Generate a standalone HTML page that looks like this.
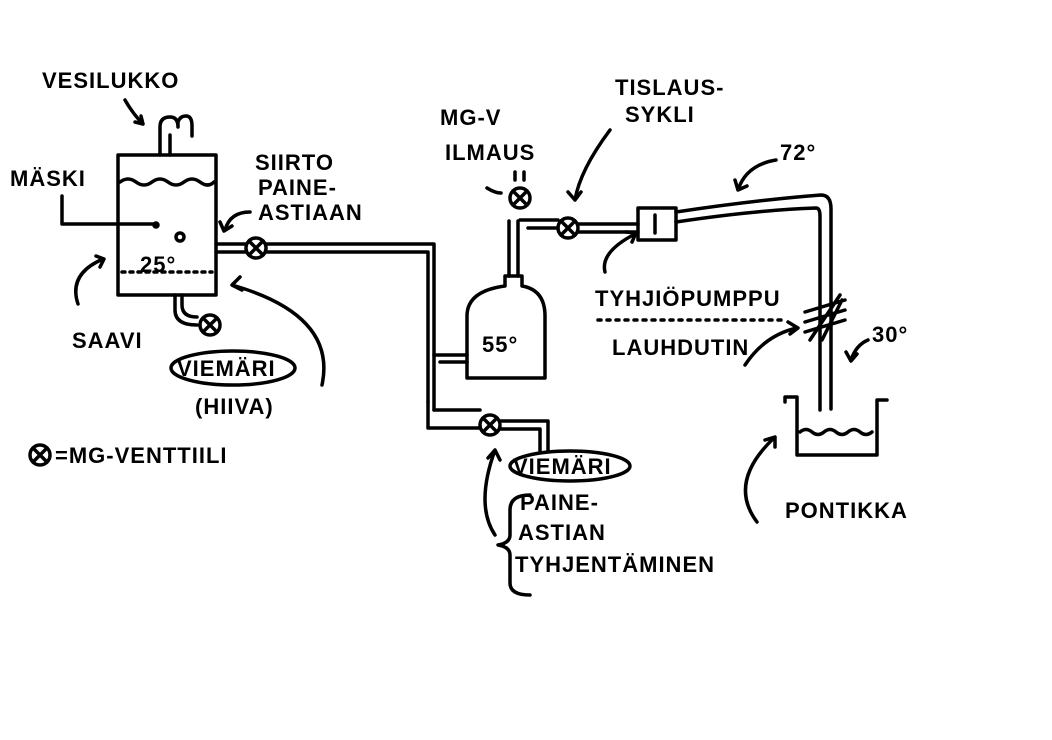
<!DOCTYPE html>
<html><head><meta charset="utf-8"><style>
html,body{margin:0;padding:0;background:#fff;width:1052px;height:740px;overflow:hidden}
svg text{font-family:"Liberation Sans Narrow","Liberation Sans",sans-serif;font-size:22px;fill:#000;letter-spacing:1px;font-weight:bold}
</style></head><body>
<svg width="1052" height="740" viewBox="0 0 1052 740" xmlns="http://www.w3.org/2000/svg">
<g fill="none" stroke="#000" stroke-width="3.5" stroke-linecap="round" stroke-linejoin="round">
<rect x="118" y="155" width="98" height="140"/>
<path d="M120 182 q8 -6 16 0 q8 6 16 0 q8 -6 16 0 q8 6 16 0 q8 -6 16 0 q8 6 14 0"/>
<path d="M122 272 h90" stroke-dasharray="3 5"/>
<path d="M160 155 v-28 q0 -10 10 -10 q8 0 8 10 v-5 M170 155 v-20 M178 122 q2 -6 8 -6 q6 0 6 10 v10"/>
<path d="M125 100 q8 14 18 24 M135 122 l8 2 l-2 -8"/>
<path d="M62 196 v28 h92"/>
<circle cx="156" cy="225" r="2" fill="#000"/>
<circle cx="180" cy="237" r="4"/>
<path d="M78 304 q-10 -30 25 -45 M96 256 l8 3 l-4 8"/>
<path d="M250 212 q-20 0 -25 18 M220 222 l4 9 l8 -5"/>
<path d="M216 244 h30 M216 252 h30"/>
<circle cx="256" cy="248" r="10"/><path d="M249 241 l14 14 M263 241 l-14 14"/>
<path d="M266 244 h168 v166 M266 252 h162 v150"/>
<path d="M428 402 v26 h52 M434 410 h46" />
<path d="M434 355 h33 M440 362 h27"/>
<circle cx="490" cy="425" r="10"/><path d="M483 418 l14 14 M497 418 l-14 14"/>
<path d="M500 421 h48 v30 M500 429 h40 v22"/>
<path d="M175 295 v15 q0 15 22 15 M182 295 v10 q0 12 15 12"/>
<circle cx="210" cy="325" r="10"/><path d="M203 318 l14 14 M217 318 l-14 14"/>
<ellipse cx="233" cy="368" rx="62" ry="17"/>
<path d="M322 385 q15 -70 -90 -100 M232 285 l8 -8 M232 285 l10 5"/>
<path d="M467 378 v-62 q0 -25 38 -30 v-10 h17 v10 q23 4 23 30 v62 z"/>
<path d="M509 276 v-55 M518 276 v-55"/>
<circle cx="520" cy="198" r="10"/><path d="M513 191 l14 14 M527 191 l-14 14"/>
<path d="M515 180 v-8 M524 180 v-8"/>
<path d="M520 220 h38 M528 228 h30"/>
<circle cx="568" cy="228" r="10"/><path d="M561 221 l14 14 M575 221 l-14 14"/>
<path d="M578 224 h60 M578 232 h60"/>
<rect x="638" y="208" width="38" height="32"/><path d="M655 215 v18"/>
<path d="M676 212 q80 -12 145 -17 q10 0 10 14 v200 M676 222 q80 -12 140 -14 q4 0 4 8 v194"/>
<path d="M805 312 l40 -12 M805 322 l40 -12 M805 332 l40 -12 M810 340 l30 -45 M822 340 l20 -40"/>
<path d="M785 402 v-5 h12 v58 h80 v-55 h10"/>
<path d="M800 432 q6 -5 12 0 q6 5 12 0 q6 -5 12 0 q6 5 12 0 q6 -5 12 0 q6 5 12 0"/>
<path d="M868 340 q-12 5 -17 20 M846 352 l5 9 l6 -7"/>
<path d="M776 160 q-30 5 -38 30 M735 180 l3 10 l9 -4"/>
<path d="M610 130 q-30 40 -35 70 M568 192 l7 8 l6 -8"/>
<path d="M487 188 q8 5 14 5"/>
<path d="M605 272 q-5 -20 30 -38 M626 232 l10 1 l-4 9"/>
<path d="M598 320 h185" stroke-dasharray="3 6"/>
<path d="M745 365 q20 -30 52 -37 M788 322 l10 6 l-8 6"/>
<path d="M757 522 q-30 -40 18 -85 M765 440 l10 -3 l0 10"/>
<ellipse cx="570" cy="466" rx="60" ry="15"/>
<path d="M530 495 q-20 0 -20 15 v25 q0 8 -12 10 q12 2 12 10 v28 q0 12 20 12"/>
<path d="M495 535 q-20 -30 0 -85 M488 458 l7 -8 l5 10"/>
<circle cx="40" cy="455" r="10"/><path d="M33 448 l14 14 M47 448 l-14 14"/>
</g>
<text x="42" y="88" font-size="26">VESILUKKO</text>
<text x="10" y="186">MÄSKI</text>
<text x="140" y="272">25°</text>
<text x="72" y="348">SAAVI</text>
<text x="255" y="170">SIIRTO</text>
<text x="258" y="195">PAINE-</text>
<text x="258" y="220">ASTIAAN</text>
<text x="177" y="376">VIEMÄRI</text>
<text x="195" y="414">(HIIVA)</text>
<text x="55" y="463" font-size="24">=MG-VENTTIILI</text>
<text x="440" y="125">MG-V</text>
<text x="445" y="160">ILMAUS</text>
<text x="482" y="352" font-size="28">55°</text>
<text x="615" y="95">TISLAUS-</text>
<text x="625" y="122">SYKLI</text>
<text x="780" y="160" font-size="26">72°</text>
<text x="595" y="306" font-size="26">TYHJIÖPUMPPU</text>
<text x="612" y="355">LAUHDUTIN</text>
<text x="872" y="342">30°</text>
<text x="785" y="518">PONTIKKA</text>
<text x="513" y="474">VIEMÄRI</text>
<text x="520" y="510">PAINE-</text>
<text x="518" y="540">ASTIAN</text>
<text x="515" y="572">TYHJENTÄMINEN</text>
</svg>
</body></html>
